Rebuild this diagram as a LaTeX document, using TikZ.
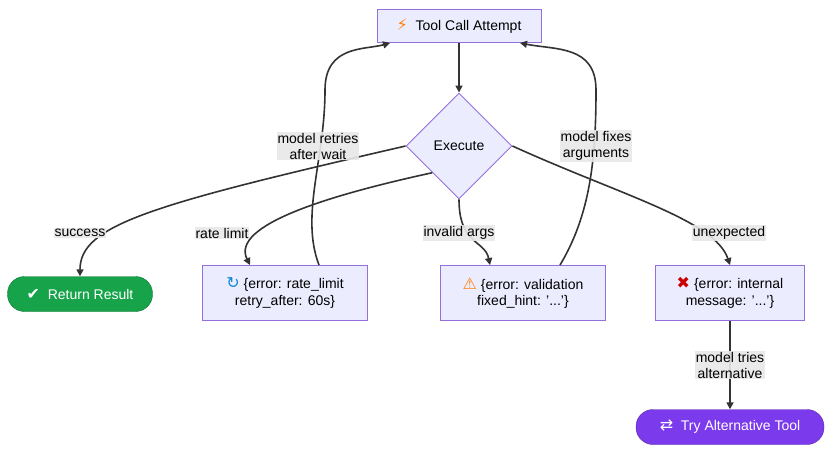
\documentclass[tikz,border=0pt]{standalone}
\usepackage{fontspec}
\setmainfont{Liberation Sans}
\newfontfamily\symfont{DejaVu Sans}
\usetikzlibrary{shapes.geometric,arrows.meta}
\definecolor{boxfill}{HTML}{ECECFF}
\definecolor{boxline}{HTML}{9370DB}
\definecolor{okgreen}{HTML}{16A34A}
\definecolor{altpurple}{HTML}{7C3AED}
\definecolor{lblbg}{HTML}{E8E8E8}
\definecolor{edgecol}{HTML}{333333}
\newcommand{\icon}[2]{{\symfont\fontsize{16}{16}\selectfont\color{#1}#2}}
\begin{document}
\begin{tikzpicture}[x=1pt,y=-1pt,>={Triangle[length=7pt,width=7pt]},
	font=\fontsize{14}{16.5}\selectfont,
	box/.style={rectangle,draw=boxline,fill=boxfill,line width=0.9pt,align=center,inner sep=0pt},
	pill/.style={rectangle,rounded corners=17pt,draw=#1!70!black,fill=#1,text=white,minimum height=35pt,inner sep=0pt},
	flow/.style={->,draw=edgecol,line width=1.6pt},
	lbl/.style={fill=lblbg,fill opacity=0.9,text opacity=1,align=center,inner sep=1pt,font=\fontsize{14}{16}\selectfont}]
	\useasboundingbox (0,0) rectangle (840,457);

	\node[box,minimum width=164pt,minimum height=33pt] (attempt) at (459,26) {\icon{orange}{⚡}\ \ Tool Call Attempt};
	\node[diamond,draw=boxline,fill=boxfill,line width=0.9pt,minimum width=106pt,minimum height=106pt,inner sep=0pt] (exec) at (459,146) {Execute};
	\node[pill=okgreen,minimum width=145pt] (result) at (80,294) {\icon{white}{✔}\ \ Return Result};
	\node[box,minimum width=165pt,minimum height=55pt] (rate) at (285,293) {\icon{cyan!70!blue}{↻}\ \{error: rate\_limit\\retry\_after: 60s\}};
	\node[box,minimum width=165pt,minimum height=55pt] (valid) at (523,293) {\icon{orange}{⚠}\ \{error: validation\\fixed\_hint: '...'\}};
	\node[box,minimum width=149pt,minimum height=55pt] (internal) at (730,293) {\icon{red!80!black}{✖}\ \{error: internal\\message: '...'\}};
	\node[pill=altpurple,minimum width=188pt] (alt) at (730,427) {\icon{white}{⇄}\ \ Try Alternative Tool};

	\coordinate (a1) at (319,266);
	\coordinate (a2) at (560,266);

	\draw[flow] (attempt) -- (exec);
	\draw[flow] (exec.west) .. controls (150,205) and (80,225) .. (result.north);
	\draw[flow] (exec.south west) .. controls (330,195) and (230,225) .. (rate.north west -| 250,0);
	\draw[flow] (exec.south) .. controls (459,245) and (485,240) .. (valid.north west -| 490,0);
	\draw[flow] (exec.east) .. controls (620,195) and (715,220) .. (internal.north);
	\draw[flow] (rate.north -| a1) .. controls (300,215) and (325,160) .. (325,90) .. controls (325,45) and (365,50) .. (attempt.south west -| 390,0);
	\draw[flow] (valid.north -| a2) .. controls (590,215) and (596,160) .. (596,90) .. controls (596,45) and (555,50) .. (attempt.south east -| 520,0);
	\draw[flow] (internal) -- (alt);

	\node[lbl] (lsucc) at (80,233) {success};
	\node[lbl] (lrate) at (222,233) {rate limit};
	\node[lbl] (linv) at (459,233) {invalid args};
	\node[lbl] (lunex) at (729,233) {unexpected};
	\node[lbl] (lretry) at (318,146) {model retries\\after wait};
	\node[lbl] (lfix) at (596,146) {model fixes\\arguments};
	\node[lbl] (ltry) at (730,365) {model tries\\alternative};
\end{tikzpicture}
\end{document}
